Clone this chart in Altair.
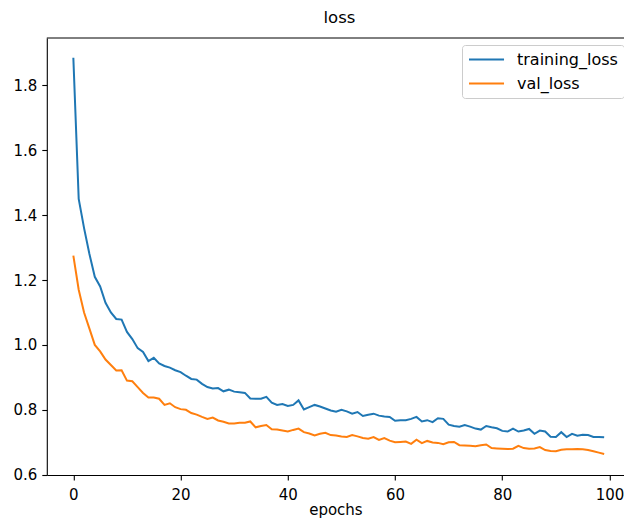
import altair as alt
import pandas as pd

epochs = list(range(100))

training_loss = [
    1.885, 1.450, 1.360, 1.280, 1.210, 1.180, 1.130, 1.100, 1.080, 1.078,
    1.040, 1.018, 0.990, 0.978, 0.950, 0.960, 0.943, 0.935, 0.930, 0.922,
    0.916, 0.905, 0.895, 0.893, 0.880, 0.870, 0.866, 0.867, 0.857, 0.862,
    0.856, 0.854, 0.852, 0.835, 0.834, 0.834, 0.840, 0.822, 0.815, 0.818,
    0.812, 0.815, 0.829, 0.801, 0.808, 0.815, 0.810, 0.804, 0.798, 0.794,
    0.800, 0.795, 0.788, 0.793, 0.781, 0.785, 0.788, 0.782, 0.779, 0.778,
    0.766, 0.768, 0.768, 0.772, 0.778, 0.764, 0.768, 0.762, 0.774, 0.772,
    0.754, 0.750, 0.748, 0.753, 0.748, 0.742, 0.739, 0.750, 0.746, 0.743,
    0.735, 0.733, 0.742, 0.733, 0.736, 0.741, 0.726, 0.736, 0.733, 0.717,
    0.716, 0.731, 0.716, 0.726, 0.720, 0.723, 0.722, 0.716, 0.716, 0.715,
]

val_loss = [
    1.275, 1.170, 1.100, 1.050, 1.000, 0.980, 0.955, 0.938, 0.921, 0.922,
    0.890, 0.888, 0.870, 0.852, 0.838, 0.838, 0.834, 0.815, 0.820, 0.808,
    0.802, 0.800, 0.790, 0.785, 0.778, 0.772, 0.776, 0.767, 0.763, 0.758,
    0.758, 0.760, 0.760, 0.764, 0.746, 0.750, 0.753, 0.740, 0.739, 0.736,
    0.733, 0.738, 0.742, 0.731, 0.727, 0.721, 0.726, 0.729, 0.722, 0.721,
    0.718, 0.716, 0.722, 0.718, 0.713, 0.711, 0.716, 0.707, 0.713, 0.705,
    0.700, 0.701, 0.702, 0.695, 0.708, 0.697, 0.704, 0.699, 0.698, 0.694,
    0.700, 0.701, 0.691, 0.690, 0.689, 0.688, 0.691, 0.693, 0.682, 0.681,
    0.680, 0.679, 0.680, 0.689, 0.682, 0.680, 0.681, 0.685, 0.676, 0.673,
    0.672, 0.677, 0.678, 0.678, 0.679, 0.678, 0.676, 0.672, 0.668, 0.664,
]

series_names = ["training_loss", "val_loss"]
series_colors = ["#1f77b4", "#ff7f0e"]
x_ticks = [0, 20, 40, 60, 80, 100]
y_ticks = [0.6, 0.8, 1.0, 1.2, 1.4, 1.6, 1.8]

df = pd.DataFrame({
    "epoch": epochs + epochs,
    "loss": training_loss + val_loss,
    "series": [series_names[0]] * len(epochs) + [series_names[1]] * len(epochs),
})

W, H = 577.2, 437
FONT = "DejaVu Sans"

lines = alt.Chart(df).mark_line(strokeWidth=2).encode(
    x=alt.X("epoch:Q",
            scale=alt.Scale(domain=[-4.95, 102.7], nice=False, zero=False),
            axis=alt.Axis(values=x_ticks, title="epochs", format="d", labelPadding=7)),
    y=alt.Y("loss:Q",
            scale=alt.Scale(domain=[0.599, 1.946], nice=False, zero=False),
            axis=alt.Axis(values=y_ticks, title=None, format=".1f")),
    color=alt.Color("series:N",
                    scale=alt.Scale(domain=series_names, range=series_colors),
                    legend=alt.Legend(title=None, orient="none", legendX=415.2, legendY=7)),
)

top_spine = alt.Chart(pd.DataFrame({"k": [0]})).mark_rule(color="black", strokeWidth=1).encode(
    x=alt.value(0), x2=alt.value(W), y=alt.value(0)
)

chart = alt.layer(lines, top_spine).properties(
    width=W, height=H,
    title=alt.TitleParams("loss", fontSize=16.5, font=FONT, fontWeight="normal",
                          anchor="middle", offset=13, baseline="alphabetic",
                          dx=4, dy=15, color="black"),
    padding={"left": 38.8, "top": 30, "right": 0, "bottom": 43},
    autosize=alt.AutoSizeParams(type="none"),
).configure_view(stroke=None).configure_axis(
    grid=False,
    domainColor="black", domainWidth=1.1,
    tickColor="black", tickSize=5, tickWidth=1.1,
    labelColor="black", labelFont=FONT, labelFontSize=15, labelPadding=5,
    titleColor="black", titleFont=FONT, titleFontSize=15, titleFontWeight="normal",
    titlePadding=0,
).configure_legend(
    fillColor="white", strokeColor="#cccccc", cornerRadius=3, padding=6,
    labelFont=FONT, labelFontSize=16, labelColor="black", labelOffset=32,
    symbolType="M-1,0L3.67,0", symbolStrokeWidth=2, symbolSize=225, rowPadding=7,
)

chart.save("out.html", embed_options={"renderer": "svg", "actions": False})
